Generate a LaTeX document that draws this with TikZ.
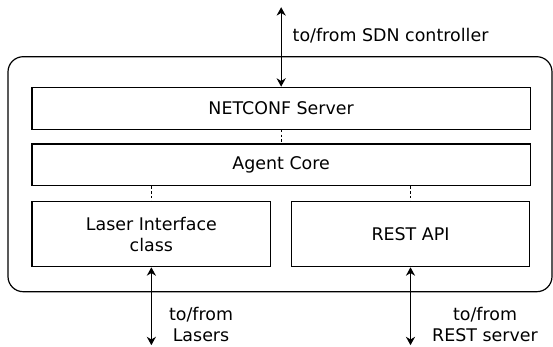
\documentclass[tikz,border=0pt]{standalone}
\usepackage{fontspec}
\setmainfont{DejaVu Sans}
\usepackage{tikz}
\usetikzlibrary{
    arrows.meta,
    calc,
    positioning
}

\begin{document}
\begin{tikzpicture}[
    font=\fontsize{12.4}{15}\selectfont,
    line width=0.85pt,
    block/.style={draw, inner sep=0pt, align=center},
    label/.style={align=center},
    link/.style={dash pattern=on 1.8pt off 1.6pt},
    io/.style={{Stealth[length=6pt,width=6.5pt]}-{Stealth[length=6pt,width=6.5pt]}}
]
    \useasboundingbox (0, 0) rectangle (13.825, 8.65);

    % agent container
    \draw[rounded corners=0.38cm] (0.2, 1.3575) rectangle (13.8, 7.2325);

    \node[block, minimum width=12.4575cm, minimum height=1.05cm] (nc) at (7.029, 5.9425) {NETCONF Server};
    \node[block, minimum width=12.4575cm, minimum height=1.0425cm] (core) at (7.029, 4.52875) {Agent Core};
    \node[block, minimum width=5.9675cm, minimum height=1.625cm] (laser) at (3.784, 2.795) {Laser Interface\\class};
    \node[block, minimum width=5.96cm, minimum height=1.625cm] (rest) at (10.2625, 2.795) {REST API};

    % outside ends
    \coordinate (ctl) at (7.029, 8.47);
    \coordinate (las) at (3.784, 0.02);
    \coordinate (srv) at (10.2625, 0.02);

    \node[label, anchor=base west] (ctltext) at (7.185, 7.625) {to/from SDN controller};
    \node[label] (lastext) at (5.025, 0.53) {to/from\\Lasers};
    \node[label] (srvtext) at (12.125, 0.53) {to/from\\REST server};

    \draw[link]
    (nc) -- (core)
    (core.south -| laser) -- (laser)
    (core.south -| rest) -- (rest);

    \draw[io] (ctl) -- (nc);
    \draw[io] (laser) -- (las);
    \draw[io] (rest) -- (srv);
\end{tikzpicture}
\end{document}
